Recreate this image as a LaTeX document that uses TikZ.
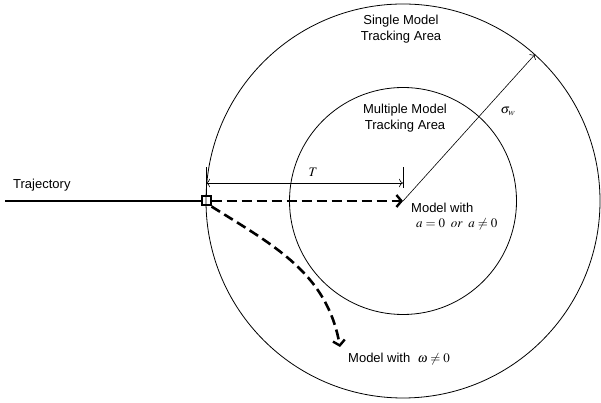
\documentclass[tikz,border=0pt]{standalone}
\usepackage{mathptmx}
\usepackage[no-math]{fontspec}
\setmainfont{Liberation Sans}
\usetikzlibrary{arrows.meta,positioning}
\begin{document}
\begin{tikzpicture}[x=1pt,y=1pt,every node/.style={inner sep=1pt},font=\fontsize{13}{15.5}\selectfont]
\tikzstyle{ring}=[draw,circle,line width=0.8pt,inner sep=0pt]
\tikzstyle{dasharrow}=[draw,line width=2.6pt,dash pattern=on 10pt off 5pt,-{Straight Barb[length=5pt,width=12pt,line width=2.4pt]}]
\tikzstyle{thinarrow}=[draw,line width=0.6pt,-{To[length=4pt]}]
\useasboundingbox (0,0) rectangle (601,403);

% circles
\coordinate (c0) at (403,202);
\node[ring,minimum size=394pt](c1) at (c0){};
\node[ring,minimum size=227pt](c2) at (c0){};
\node[align=center](a1) at (401,374){Single Model\\Tracking Area};
\node[align=center](a2) at (405,285){Multiple Model\\Tracking Area};

% trajectory
\node[draw,line width=2pt,minimum size=9pt,inner sep=0pt](s0) at (206,202){};
\coordinate (t0) at (5,202);
\path[draw,line width=2.8pt](t0)--(s0.west);
\node[anchor=west](t1) at (12,218){Trajectory};

% models
\path[dasharrow](s0.east)--(c0);
\coordinate (w0) at (340,56);
\path[dasharrow](s0.south east) to[out=-32,in=100] (w0);
\node[anchor=west](m1) at (410,195){Model with};
\node[below=3pt of m1.south west,anchor=north west,xshift=5pt](m2){$a=0\;\;or\;\;a\neq0$};
\node[anchor=west](m3) at (347,44){Model with\ \ $\omega\neq0$};

% radius
\path[thinarrow](c0)--(c1.48);
\node(sg) at (508,292){$\sigma_w$};

% T
\coordinate (d0) at (206,236);
\coordinate (d1) at (403,236);
\coordinate (d2) at (403,215);
\coordinate (e0) at (206,220);
\coordinate (e1) at (403,220);
\path[draw,line width=0.6pt](s0.north)--(d0);
\path[draw,line width=0.6pt](d2)--(d1);
\path[draw,line width=0.6pt,{To[length=4pt]}-{To[length=4pt]}](e0)--(e1);
\node(tl) at (313,231){$T$};
\end{tikzpicture}
\end{document}
